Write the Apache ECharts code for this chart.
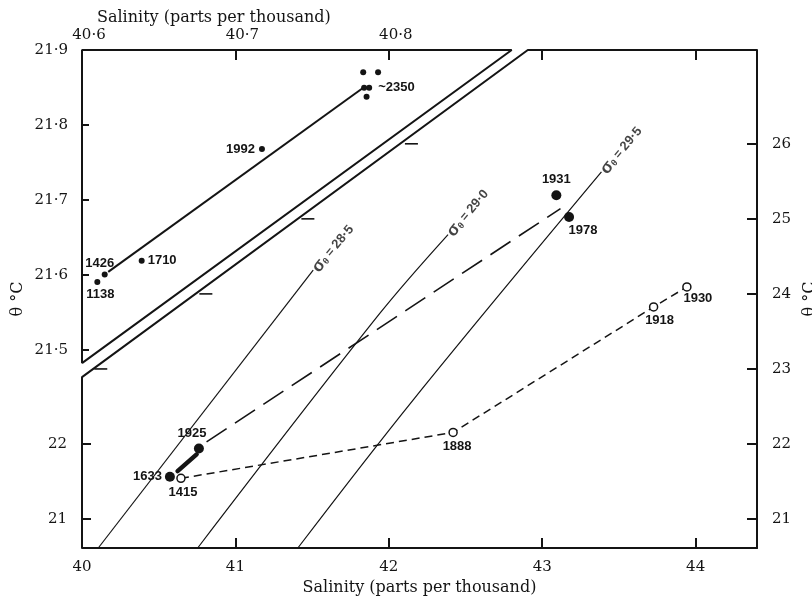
<!DOCTYPE html>
<html><head><meta charset="utf-8">
<script src="https://cdn.jsdelivr.net/npm/echarts@6/dist/echarts.min.js"></script>
<style>html,body{margin:0;padding:0;background:#fff}#c{width:812px;height:599px}</style>
</head><body><div id="c"></div>
<script>
// ---- axis ranges and ticks ----
const xMainMin = 40, xMainMax = 44.4;
const xInsetMin = 40.6, xInsetMax = 41.04;
const yMainMin = 20.614, yMainMax = 27.25;
const yInsetMin = 21.2364, yInsetMax = 21.9;
const xMainTicks = [40, 41, 42, 43, 44];
const xInsetTicks = [40.6, 40.7, 40.8, 40.9, 41.0];
const xInsetLabels = [40.6, 40.7, 40.8];
const yLeftMainTicks = [21, 22];
const yRightTicks = [21, 22, 23, 24, 25, 26];
const yInsetTicks = [21.5, 21.6, 21.7, 21.8, 21.9];

// ---- main panel data: [salinity, theta, depth label] ----
const filledPts = [[40.573, 21.563, '1633'], [40.762, 21.941, '1925'], [43.092, 25.314, '1931'], [43.175, 25.025, '1978']];
const openPts = [[40.645, 21.542, '1415'], [42.419, 22.154, '1888'], [43.726, 23.827, '1918'], [43.943, 24.093, '1930']];
const shortDashLine = [[40.645, 21.542], [42.419, 22.154], [43.726, 23.827], [43.943, 24.093]];
const longDashLine = [[40.812, 22.029], [43.119, 25.137]];
const thickSegment = [[40.623, 21.639], [40.747, 21.862]];
const sigma285 = [[40.106, 20.614], [41.507, 24.316]];
const sigma290 = [[40.754, 20.614], [41.941, 23.739], [42.386, 24.79]];
const sigma295 = [[41.407, 20.614], [42.158, 22.585], [43.386, 25.625]];
const sigmaLabels = [[41.507, 24.316, '28·5'], [42.386, 24.79, '29·0'], [43.386, 25.625, '29·5']];

// ---- inset data (top salinity axis, inset theta axis) ----
const insetPts = [[40.6148, 21.6009, '1426'], [40.6100, 21.5907, '1138'], [40.6389, 21.6191, '1710'], [40.7173, 21.768, '1992']];
const cluster2350 = [[40.7833, 21.8703], [40.7930, 21.8703], [40.7839, 21.8497], [40.7872, 21.8497, '~2350'], [40.7855, 21.8377]];
const insetLine = [[40.6171, 21.6044], [40.7831, 21.8493]];

// ---- frame: inset triangle and lower frame with the break ----
const insetFrame = [[40, 23.077], [40, 27.25], [42.801, 27.25], [40, 23.077]];
const lowerFrame = [[40, 20.614], [40, 22.891], [42.906, 27.25], [44.4, 27.25]];
const diagTicks = [[40.08, 23], [40.765, 24], [41.43, 25], [42.105, 26]];

const INK = '#141414';
const serif = 'DejaVu Serif';
const sans = 'Liberation Sans';
const dot = v => (+v).toFixed(Number.isInteger(+v) ? 0 : 1).replace('.', '·');
const labelStyle = {fontFamily: sans, fontSize: 13, fontWeight: 'bold', color: INK};

const labelCfg = {
  '1633': {position: 'left', distance: 3},
  '1925': {position: 'top', distance: 3, offset: [-7, 0]},
  '1931': {position: 'top', distance: 4},
  '1978': {position: 'bottom', distance: 3, offset: [14, -1]},
  '1415': {position: 'bottom', distance: 3, offset: [2, 0]},
  '1888': {position: 'bottom', distance: 3, offset: [4, 0]},
  '1918': {position: 'bottom', distance: 2, offset: [6, 0]},
  '1930': {position: 'bottom', distance: 1, offset: [11, -1]},
  '1426': {position: 'top', distance: 2, offset: [-5, 0]},
  '1138': {position: 'bottom', distance: 3, offset: [3, 0]},
  '1710': {position: 'right', distance: 3},
  '1992': {position: 'left', distance: 4},
  '~2350': {position: 'right', distance: 6}
};
function pts(arr) {
  return arr.map(p => {
    const item = {value: [p[0], p[1]]};
    if (p[2]) item.label = Object.assign({show: true, formatter: p[2]}, labelStyle, labelCfg[p[2]]);
    return item;
  });
}
function lineSeries(data, opts) {
  return Object.assign({type: 'line', data: data, symbol: 'none', clip: false, silent: true, z: 2,
    lineStyle: {color: INK, width: 1.2}}, opts);
}
const axisFont = {fontFamily: serif, fontSize: 15, color: INK};
const nameFont = {fontFamily: serif, fontSize: 16, color: INK};

const option = {
  backgroundColor: '#fff',
  animation: false,
  title: {text: 'Salinity (parts per thousand)', left: 97, top: 10, padding: 0,
    textStyle: {fontFamily: serif, fontSize: 16, fontWeight: 'normal', color: INK}},
  grid: {left: 82, right: 55, top: 50, bottom: 51, outerBoundsMode: 'none', containLabel: false},
  xAxis: [
    {type: 'value', min: xMainMin, max: xMainMax, position: 'bottom',
      axisLine: {show: true, lineStyle: {color: INK, width: 2}},
      axisTick: {show: true, inside: true, length: 10, customValues: xMainTicks, lineStyle: {color: INK, width: 2}},
      axisLabel: Object.assign({customValues: xMainTicks, formatter: dot, margin: 12}, axisFont),
      splitLine: {show: false},
      name: 'Salinity (parts per thousand)', nameLocation: 'middle', nameGap: 26, nameTextStyle: nameFont},
    {type: 'value', min: xInsetMin, max: xInsetMax, position: 'top',
      axisLine: {show: false},
      axisTick: {show: true, inside: true, length: 10, customValues: xInsetTicks, lineStyle: {color: INK, width: 2}},
      axisLabel: Object.assign({customValues: xInsetLabels, formatter: dot, margin: 7, padding: [0, 0, 0, 14]}, axisFont),
      splitLine: {show: false}}
  ],
  yAxis: [
    {type: 'value', min: yMainMin, max: yMainMax, position: 'left',
      axisLine: {show: false},
      axisTick: {show: true, inside: true, length: 9, customValues: yLeftMainTicks, lineStyle: {color: INK, width: 2}},
      axisLabel: Object.assign({customValues: yLeftMainTicks, formatter: dot, margin: 15}, axisFont),
      splitLine: {show: false},
      name: 'θ °C', nameLocation: 'middle', nameRotate: 90, nameGap: 56, nameTextStyle: nameFont},
    {type: 'value', min: yMainMin, max: yMainMax, position: 'right',
      axisLine: {show: true, lineStyle: {color: INK, width: 2}},
      axisTick: {show: true, inside: true, length: 10, customValues: yRightTicks, lineStyle: {color: INK, width: 2}},
      axisLabel: Object.assign({customValues: yRightTicks, formatter: dot, margin: 15}, axisFont),
      splitLine: {show: false},
      name: 'θ °C', nameLocation: 'middle', nameRotate: 90, nameGap: 41, nameTextStyle: nameFont},
    {type: 'value', min: yInsetMin, max: yInsetMax, position: 'left', offset: 0,
      axisLine: {show: false},
      axisTick: {show: true, inside: true, length: 7, customValues: yInsetTicks, lineStyle: {color: INK, width: 2}},
      axisLabel: Object.assign({customValues: yInsetTicks, formatter: dot, margin: 14}, axisFont),
      splitLine: {show: false}}
  ],
  series: [
    lineSeries(insetFrame, {xAxisIndex: 0, yAxisIndex: 0, lineStyle: {color: INK, width: 2}}),
    lineSeries(lowerFrame, {xAxisIndex: 0, yAxisIndex: 0, lineStyle: {color: INK, width: 2}}),
    {type: 'scatter', xAxisIndex: 0, yAxisIndex: 0, data: diagTicks, symbol: 'rect', symbolSize: [13, 1.6],
      symbolOffset: [6.5, 0], itemStyle: {color: INK, opacity: 1}, silent: true},
    lineSeries(sigma285, {xAxisIndex: 0, yAxisIndex: 0}),
    lineSeries(sigma290, {xAxisIndex: 0, yAxisIndex: 0, smooth: 0.35}),
    lineSeries(sigma295, {xAxisIndex: 0, yAxisIndex: 0, smooth: 0.35}),
    {type: 'scatter', xAxisIndex: 0, yAxisIndex: 0, symbolSize: 0, silent: true,
      data: sigmaLabels.map(p => ({value: [p[0], p[1]], name: p[2]})),
      label: {show: true, position: 'right', distance: 2, rotate: 50,
        formatter: p => '{s|σ}{t|θ}{e| = }{n|' + p.name + '}',
        rich: {
          s: {fontFamily: sans, fontSize: 17, fontWeight: 'bold', color: INK},
          t: {fontFamily: sans, fontSize: 9, fontWeight: 'bold', color: INK, padding: [6, 0, 0, 0]},
          e: {fontFamily: sans, fontSize: 12, fontWeight: 'bold', color: INK},
          n: {fontFamily: sans, fontSize: 13, fontWeight: 'bold', color: INK}
        }}},
    lineSeries(shortDashLine, {xAxisIndex: 0, yAxisIndex: 0, lineStyle: {color: INK, width: 1.5, type: [8, 5]}}),
    lineSeries(longDashLine, {xAxisIndex: 0, yAxisIndex: 0, lineStyle: {color: INK, width: 1.6, type: [24, 10]}}),
    lineSeries(thickSegment, {xAxisIndex: 0, yAxisIndex: 0, lineStyle: {color: INK, width: 4.5, cap: 'round'}}),
    {type: 'scatter', xAxisIndex: 0, yAxisIndex: 0, data: pts(openPts), symbol: 'circle', symbolSize: 8, z: 6,
      itemStyle: {color: '#ffffff', borderColor: INK, borderWidth: 1.5, opacity: 1}, silent: true},
    {type: 'scatter', xAxisIndex: 0, yAxisIndex: 0, data: pts(filledPts), symbol: 'circle', symbolSize: 10, z: 6,
      itemStyle: {color: INK, opacity: 1}, silent: true},
    lineSeries(insetLine, {xAxisIndex: 1, yAxisIndex: 2, lineStyle: {color: INK, width: 2}}),
    {type: 'scatter', xAxisIndex: 1, yAxisIndex: 2, data: pts(insetPts), symbol: 'circle', symbolSize: 6, z: 6,
      itemStyle: {color: INK, opacity: 1}, silent: true},
    {type: 'scatter', xAxisIndex: 1, yAxisIndex: 2, data: pts(cluster2350), symbol: 'circle', symbolSize: 6, z: 6,
      itemStyle: {color: INK, opacity: 1}, silent: true}
  ]
};
echarts.init(document.getElementById('c'), null, {renderer: 'canvas'}).setOption(option);
</script></body></html>
